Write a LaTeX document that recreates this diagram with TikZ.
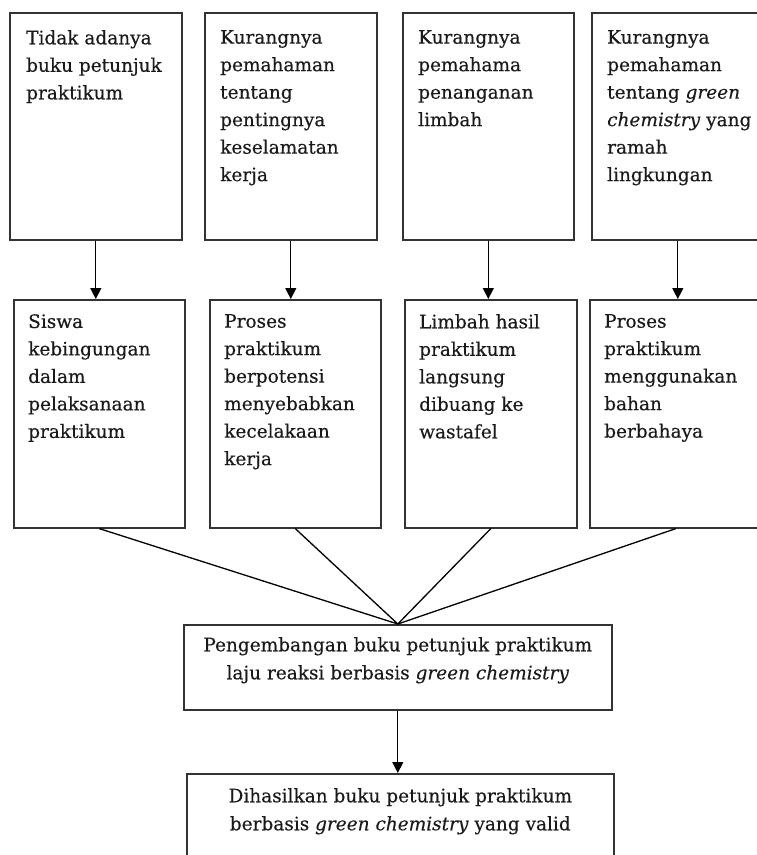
\documentclass[tikz,border=0pt]{standalone}
\usepackage{fontspec}
\setmainfont{DejaVu Serif}[FakeBold=0.35]
\usetikzlibrary{calc,arrows.meta}
\definecolor{linegray}{HTML}{333333}
\definecolor{textgray}{HTML}{1A1A1A}
\tikzset{
  box/.style={draw=linegray, line width=1.6pt, anchor=north west, inner sep=0pt},
  boxtext/.style={anchor=north west, inner sep=0pt, align=left, text=textgray, font=\fontsize{18.5}{27.5}\selectfont},
  midtext/.style={anchor=north, inner sep=0pt, align=center, text=textgray, font=\fontsize{18.5}{28}\selectfont},
  arr/.style={draw=black, line width=1.3pt, -{Triangle[length=11pt,width=11pt]}},
  link/.style={draw=black, line width=1.3pt}
}

\begin{document}
\begin{tikzpicture}[x=1pt,y=-1pt]
		%%%%% START %%%%%
		\useasboundingbox (0,0) rectangle (757,855);
		
		% top row
		\node[box, minimum width=172, minimum height=227] (t1) at (9,12) {};
		\node[box, minimum width=172, minimum height=227] (t2) at (204,12) {};
		\node[box, minimum width=171, minimum height=227] (t3) at (402,12) {};
		\node[box, minimum width=172, minimum height=227] (t4) at (591,12) {};
		
		\node[boxtext] (t1x) at ($(t1.north west)+(17,18)$) {Tidak adanya\\buku petunjuk\\praktikum};
		\node[boxtext] (t2x) at ($(t2.north west)+(16,18)$) {Kurangnya\\pemahaman\\tentang\\pentingnya\\keselamatan\\kerja};
		\node[boxtext] (t3x) at ($(t3.north west)+(16,18)$) {Kurangnya\\pemahama\\penanganan\\limbah};
		\node[boxtext] (t4x) at ($(t4.north west)+(16,18)$) {Kurangnya\\pemahaman\\tentang \textit{green}\\\textit{chemistry} yang\\ramah\\lingkungan};
		
		% middle row
		\node[box, minimum width=171, minimum height=228] (m1) at (13,299) {};
		\node[box, minimum width=171, minimum height=228] (m2) at (209,299) {};
		\node[box, minimum width=172, minimum height=228] (m3) at (404,299) {};
		\node[box, minimum width=172, minimum height=228] (m4) at (589,299) {};
		
		\node[boxtext] (m1x) at ($(m1.north west)+(15,15)$) {Siswa\\kebingungan\\dalam\\pelaksanaan\\praktikum};
		\node[boxtext] (m2x) at ($(m2.north west)+(15,15)$) {Proses\\praktikum\\berpotensi\\menyebabkan\\kecelakaan\\kerja};
		\node[boxtext] (m3x) at ($(m3.north west)+(15,15)$) {Limbah hasil\\praktikum\\langsung\\dibuang ke\\wastafel};
		\node[boxtext] (m4x) at ($(m4.north west)+(15,15)$) {Proses\\praktikum\\menggunakan\\bahan\\berbahaya};
		
		\draw[arr] (t1.south) -- (t1.south |- m1.north);
		\draw[arr] (t2.south) -- (t2.south |- m2.north);
		\draw[arr] (t3.south) -- (t3.south |- m3.north);
		\draw[arr] (t4.south) -- (t4.south |- m4.north);
		
		% bottom
		\node[box, minimum width=428, minimum height=85] (b1) at (183,624) {};
		\node[midtext] (b1x) at ($(b1.north)+(0,13)$) {Pengembangan buku petunjuk praktikum\\laju reaksi berbasis \textit{green chemistry}};
		
		\node[box, minimum width=427, minimum height=90] (b2) at (186,773) {};
		\node[midtext] (b2x) at ($(b2.north)+(0,15)$) {Dihasilkan buku petunjuk praktikum\\berbasis \textit{green chemistry} yang valid};
		
		\draw[link] (m1.south) -- (b1.north);
		\draw[link] (m2.south) -- (b1.north);
		\draw[link] (m3.south) -- (b1.north);
		\draw[link] (m4.south) -- (b1.north);
		
		\draw[arr] (b1.south) -- (b1.south |- b2.north);
		%%%%% END %%%%%
	\end{tikzpicture}
\end{document}
